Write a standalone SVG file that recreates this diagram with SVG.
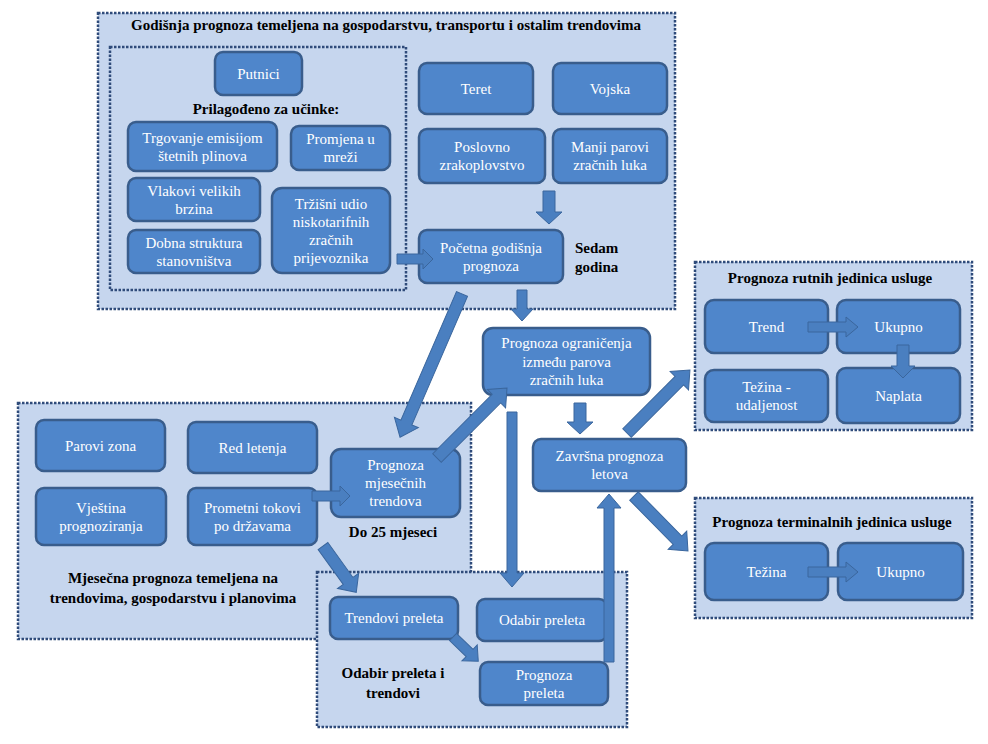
<svg xmlns="http://www.w3.org/2000/svg" width="988" height="744" viewBox="0 0 988 744" font-family="Liberation Serif, Times New Roman, DejaVu Serif, serif">
<style>
.panel{fill:#c6d6ee;stroke:#2f4b7a;stroke-width:2.5;stroke-dasharray:2.5 1.5}
.node rect{fill:#4f86cb;stroke:#395d8c;stroke-width:2.5}
.node text{fill:#ffffff;font-size:15px;text-anchor:middle}
.lbl{fill:#000;font-size:15px;font-weight:bold}
.mid{text-anchor:middle}
.arr{fill:#4a7fc0;stroke:#3a669d;stroke-width:1}
</style>
<rect width="988" height="744" fill="#ffffff"/>
<g id="panels">
<rect id="p-annual" class="panel" x="98" y="13" width="577" height="296"/>
<rect id="p-adjusted" class="panel" x="110" y="47" width="296" height="243"/>
<rect id="p-monthly" class="panel" x="18" y="403" width="453" height="236"/>
<rect id="p-overflight" class="panel" x="317" y="572" width="310" height="155"/>
<rect id="p-route" class="panel" x="695" y="262" width="277" height="168"/>
<rect id="p-terminal" class="panel" x="695" y="498" width="277" height="120"/>
</g>
<g id="labels">
<text class="lbl mid" x="386" y="30">Godišnja prognoza  temeljena na gospodarstvu, transportu  i ostalim trendovima</text>
<text class="lbl mid" x="266" y="114">Prilagođeno za učinke:</text>
<text class="lbl" x="575" y="253">Sedam</text>
<text class="lbl" x="575" y="272">godina</text>
<text class="lbl mid" x="393" y="537">Do 25 mjeseci</text>
<text class="lbl mid" x="173" y="583">Mjesečna prognoza temeljena na</text>
<text class="lbl mid" x="173" y="603">trendovima,  gospodarstvu i planovima</text>
<text class="lbl mid" x="393" y="678">Odabir preleta i</text>
<text class="lbl mid" x="393" y="698">trendovi</text>
<text class="lbl mid" x="830" y="283">Prognoza rutnih  jedinica usluge</text>
<text class="lbl mid" x="832" y="527">Prognoza terminalnih jedinica usluge</text>
</g>
<g id="n-putnici" class="node"><rect x="215" y="52" width="87" height="43" rx="8"/><text x="258.5" y="78.5">Putnici</text></g>
<g id="n-trgovanje" class="node"><rect x="128" y="122" width="149" height="49" rx="8"/><text x="202.5" y="142.5">Trgovanje  emisijom</text><text x="202.5" y="160.5">štetnih  plinova</text></g>
<g id="n-promjena" class="node"><rect x="291" y="126" width="99" height="44" rx="8"/><text x="340.5" y="144">Promjena u</text><text x="340.5" y="162">mreži</text></g>
<g id="n-vlakovi" class="node"><rect x="128" y="178" width="132" height="43" rx="8"/><text x="194" y="195.5">Vlakovi  velikih</text><text x="194" y="213.5">brzina</text></g>
<g id="n-dobna" class="node"><rect x="128" y="230" width="132" height="43" rx="8"/><text x="194" y="247.5">Dobna struktura</text><text x="194" y="265.5">stanovništva</text></g>
<g id="n-trzisni" class="node"><rect x="272" y="188" width="118" height="85" rx="10"/><text x="331" y="208.5">Tržišni  udio</text><text x="331" y="226.5">niskotarifnih</text><text x="331" y="244.5">zračnih</text><text x="331" y="262.5">prijevoznika</text></g>
<g id="n-teret" class="node"><rect x="419" y="63" width="114" height="51" rx="8"/><text x="476" y="93.5">Teret</text></g>
<g id="n-vojska" class="node"><rect x="553" y="63" width="114" height="51" rx="8"/><text x="610" y="93.5">Vojska</text></g>
<g id="n-poslovno" class="node"><rect x="419" y="129" width="126" height="54" rx="8"/><text x="482" y="152">Poslovno</text><text x="482" y="170">zrakoplovstvo</text></g>
<g id="n-manji" class="node"><rect x="553" y="129" width="114" height="54" rx="8"/><text x="610" y="152">Manji parovi</text><text x="610" y="170">zračnih  luka</text></g>
<g id="n-pocetna" class="node"><rect x="419" y="230" width="144" height="53" rx="8"/><text x="491" y="252.5">Početna godišnja</text><text x="491" y="270.5">prognoza</text></g>
<g id="n-ogranicenja" class="node"><rect x="483" y="328" width="167" height="67" rx="10"/><text x="566.5" y="348">Prognoza  ograničenja</text><text x="566.5" y="366.5">između  parova</text><text x="566.5" y="385">zračnih  luka</text></g>
<g id="n-zavrsna" class="node"><rect x="533" y="439" width="153" height="52" rx="8"/><text x="609.5" y="461">Završna  prognoza</text><text x="609.5" y="479">letova</text></g>
<g id="n-parovi" class="node"><rect x="36" y="420" width="129" height="51" rx="8"/><text x="100.5" y="450.5">Parovi zona</text></g>
<g id="n-red" class="node"><rect x="188" y="422" width="129" height="51" rx="8"/><text x="252.5" y="452.5">Red letenja</text></g>
<g id="n-vjestina" class="node"><rect x="36" y="488" width="130" height="57" rx="8"/><text x="101" y="512.5">Vještina</text><text x="101" y="530.5">prognoziranja</text></g>
<g id="n-prometni" class="node"><rect x="188" y="488" width="129" height="57" rx="8"/><text x="252.5" y="512.5">Prometni  tokovi</text><text x="252.5" y="530.5">po državama</text></g>
<g id="n-mjesecnih" class="node"><rect x="331" y="449" width="129" height="68" rx="10"/><text x="395.5" y="470">Prognoza</text><text x="395.5" y="488">mjesečnih</text><text x="395.5" y="506">trendova</text></g>
<g id="n-trendovi-preleta" class="node"><rect x="330" y="597" width="128" height="42" rx="8"/><text x="394" y="623">Trendovi  preleta</text></g>
<g id="n-odabir-preleta" class="node"><rect x="477" y="599" width="130" height="42" rx="8"/><text x="542" y="625">Odabir preleta</text></g>
<g id="n-prognoza-preleta" class="node"><rect x="480" y="662" width="128" height="43" rx="8"/><text x="544" y="679.5">Prognoza</text><text x="544" y="697.5">preleta</text></g>
<g id="n-trend" class="node"><rect x="705" y="300" width="123" height="53" rx="9"/><text x="766.5" y="331.5">Trend</text></g>
<g id="n-ukupno-rutne" class="node"><rect x="837" y="300" width="123" height="53" rx="9"/><text x="898.5" y="331.5">Ukupno</text></g>
<g id="n-tezina-udaljenost" class="node"><rect x="705" y="370" width="123" height="52" rx="9"/><text x="766.5" y="392">Težina  -</text><text x="766.5" y="410">udaljenost</text></g>
<g id="n-naplata" class="node"><rect x="837" y="368" width="123" height="55" rx="9"/><text x="898.5" y="400.5">Naplata</text></g>
<g id="n-tezina" class="node"><rect x="705" y="543" width="123" height="57" rx="9"/><text x="766.5" y="576.5">Težina</text></g>
<g id="n-ukupno-terminalne" class="node"><rect x="838" y="543" width="125" height="57" rx="9"/><text x="900.5" y="576.5">Ukupno</text></g>
<g id="connectors">
<path class="arr" transform="translate(549,191) rotate(90)" d="M0,-6 L21,-6 L21,-13 L33,0 L21,13 L21,6 L0,6 Z"/>
<path class="arr" transform="translate(397,259)" d="M0,-5 L26,-5 L26,-10 L36,0 L26,10 L26,5 L0,5 Z"/>
<path class="arr" transform="translate(522,290) rotate(90)" d="M0,-5 L19,-5 L19,-11 L31,0 L19,11 L19,5 L0,5 Z"/>
<path class="arr" transform="translate(462,294) rotate(113.4)" d="M0,-6 L140,-6 L140,-13 L156,0 L140,13 L140,6 L0,6 Z"/>
<path class="arr" transform="translate(437,458) rotate(-45)" d="M0,-6 L84,-6 L84,-13 L99,0 L84,13 L84,6 L0,6 Z"/>
<path class="arr" transform="translate(580,403) rotate(90)" d="M0,-6 L19,-6 L19,-13 L31,0 L19,13 L19,6 L0,6 Z"/>
<path class="arr" transform="translate(512,412) rotate(90)" d="M0,-5 L161,-5 L161,-12 L175,0 L161,12 L161,5 L0,5 Z"/>
<path class="arr" transform="translate(627,433) rotate(-45)" d="M0,-6 L74,-6 L74,-13 L89,0 L74,13 L74,6 L0,6 Z"/>
<path class="arr" transform="translate(634,496) rotate(45.5)" d="M0,-6 L62,-6 L62,-13 L77,0 L62,13 L62,6 L0,6 Z"/>
<path class="arr" transform="translate(609,662) rotate(-90)" d="M0,-5 L154,-5 L154,-12 L168,0 L154,12 L154,5 L0,5 Z"/>
<path class="arr" transform="translate(312,496)" d="M0,-5 L28,-5 L28,-10 L38,0 L28,10 L28,5 L0,5 Z"/>
<path class="arr" transform="translate(323,546) rotate(54.3)" d="M0,-6 L43,-6 L43,-13 L57,0 L43,13 L43,6 L0,6 Z"/>
<path class="arr" transform="translate(453,637) rotate(43.8)" d="M0,-5 L23,-5 L23,-11 L35,0 L23,11 L23,5 L0,5 Z"/>
<path class="arr" transform="translate(808,327)" d="M0,-5 L38,-5 L38,-10 L50,0 L38,10 L38,5 L0,5 Z"/>
<path class="arr" transform="translate(903,345) rotate(90)" d="M0,-6 L21,-6 L21,-12 L33,0 L21,12 L21,6 L0,6 Z"/>
<path class="arr" transform="translate(808,572)" d="M0,-5 L38,-5 L38,-10 L50,0 L38,10 L38,5 L0,5 Z"/>
</g>
</svg>
